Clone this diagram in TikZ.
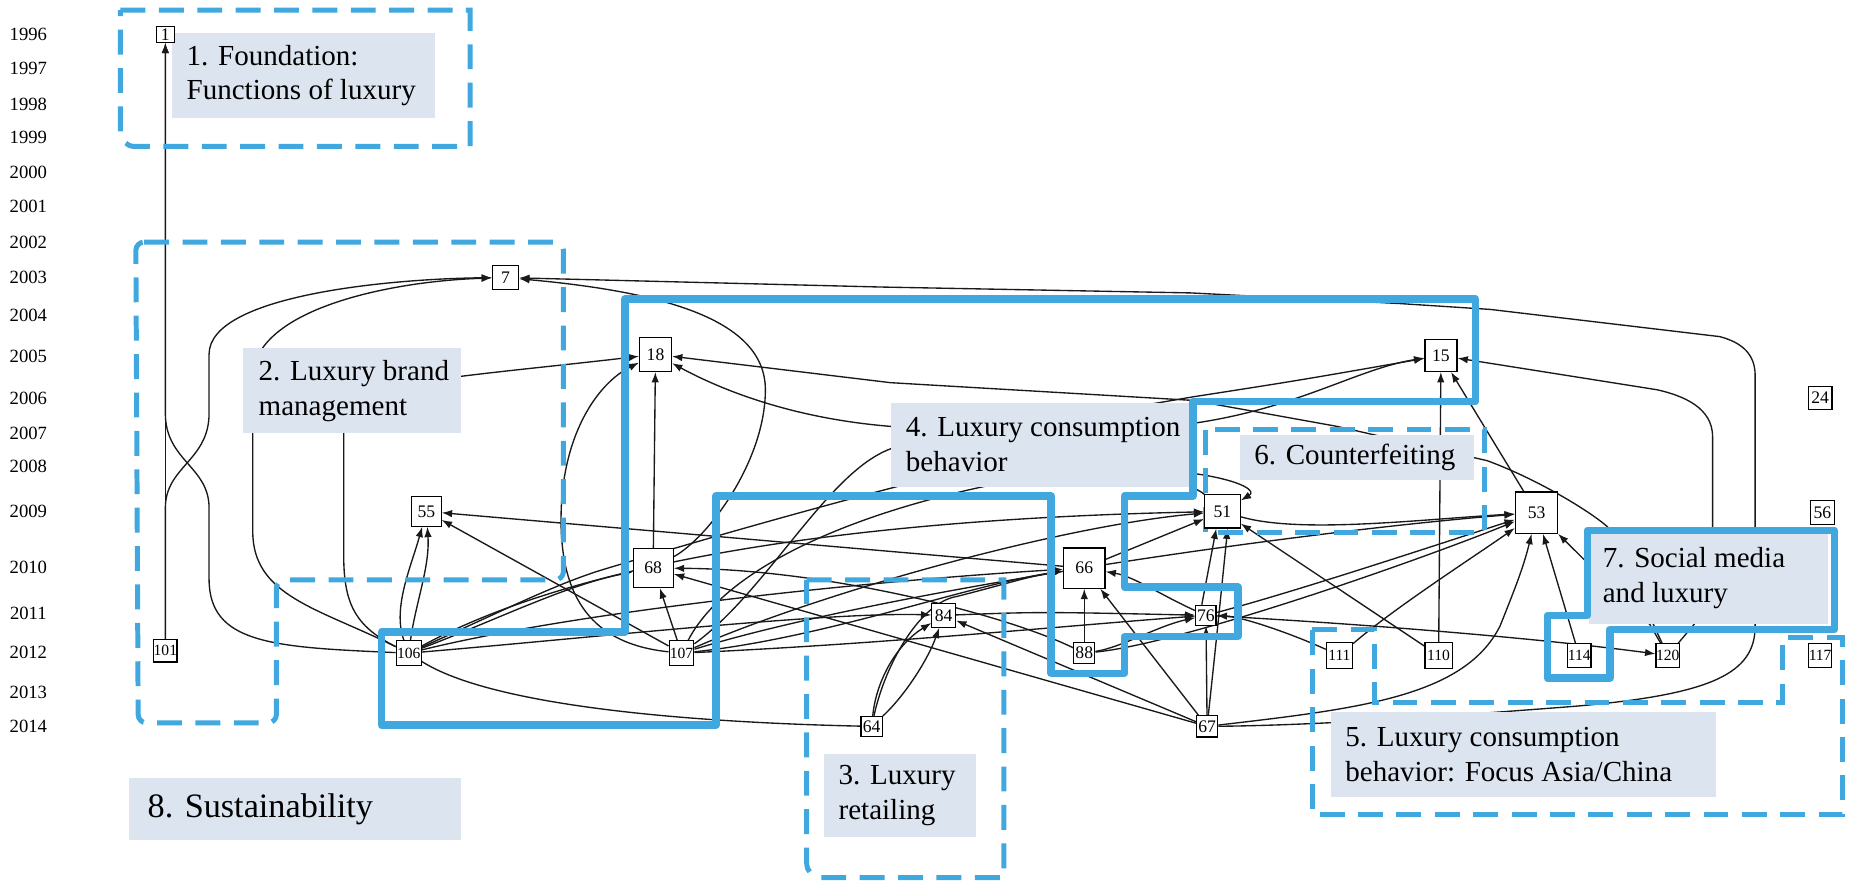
\documentclass[tikz,border=0pt]{standalone}
\usepackage{fontspec}
\setmainfont{Liberation Serif}
\usetikzlibrary{arrows.meta}
\definecolor{grpblue}{RGB}{64,168,223}
\definecolor{labfill}{RGB}{220,228,240}
\pgfdeclarelayer{bg}
\pgfdeclarelayer{edgel}
\pgfdeclarelayer{labl}
\pgfdeclarelayer{grpl}
\pgfsetlayers{bg,edgel,labl,grpl,main}
\begin{document}
\begin{tikzpicture}[x=0.02cm,y=-0.02cm,
  ln/.style={line width=0.65pt, draw=black!90},
  ar/.style={ln, -{Latex[length=5pt,width=3.6pt]}},
  nb/.style 2 args={draw, fill=white, line width=0.55pt, inner sep=0pt, minimum width=#1cm, minimum height=#2cm, font=\fontsize{8.5}{8.5}\selectfont},
  tn/.style={font=\fontsize{7.5}{7.5}\selectfont},
  yr/.style={font=\fontsize{9}{9}\selectfont, inner sep=0pt},
  labbox/.style={fill=labfill, inner sep=0pt},
  labtext/.style={anchor=west, align=left, inner sep=0pt, font=\fontsize{14}{16.8}\selectfont},
  dsh/.style={draw=grpblue, line width=2.4pt, dash pattern=on 12pt off 6.5pt},
  thk/.style={draw=grpblue, line width=3.6pt, line join=round},
]
\useasboundingbox (0,0) rectangle (1568,749);
\begin{pgfonlayer}{bg}
\fill[white] (0,0) rectangle (1568,749);
\end{pgfonlayer}

% year axis
\foreach \yy/\yp in {1996/29,1997/58,1998/88,1999/116,2000/146,2001/175,2002/205,2003/235,2004/267,2005/302,2006/337,2007/367,2008/395,2009/433,2010/480,2011/519,2012/552,2013/586,2014/615}
  \node[yr] (y\yy) at (24,\yp) {\yy};

% papers
\node[nb={0.3}{0.27}] (n1) at (140,29) {1};
\node[nb={0.38}{0.38},tn] (n101) at (140,551) {101};
\node[nb={0.44}{0.4}] (n7) at (428,235) {7};
\node[nb={0.54}{0.58}] (n18) at (555,300) {18};
\node[nb={0.54}{0.54}] (n15) at (1220,301) {15};
\node[nb={0.4}{0.4}] (n24) at (1541,337) {24};
\node[nb={0.5}{0.5}] (n55) at (361,433) {55};
\node[nb={0.6}{0.56}] (n51) at (1035,433) {51};
\node[nb={0.72}{0.7}] (n53) at (1301,434) {53};
\node[nb={0.4}{0.4}] (n56) at (1543,434) {56};
\node[nb={0.68}{0.66}] (n68) at (553,481) {68};
\node[nb={0.7}{0.68}] (n66) at (918,481) {66};
\node[nb={0.4}{0.4}] (n84) at (799,521) {84};
\node[nb={0.34}{0.34}] (n76) at (1021,521) {76};
\node[nb={0.42}{0.42},tn] (n106) at (346,553) {106};
\node[nb={0.42}{0.42},tn] (n107) at (577,553) {107};
\node[nb={0.36}{0.36}] (n88) at (918,553) {88};
\node[nb={0.44}{0.44},tn] (n111) at (1134,555) {111};
\node[nb={0.46}{0.44},tn] (n110) at (1218,555) {110};
\node[nb={0.4}{0.4},tn] (n114) at (1337,555) {114};
\node[nb={0.4}{0.4},tn] (n120) at (1412,555) {120};
\node[nb={0.36}{0.4},tn] (n117) at (1541,555) {117};
\node[nb={0.36}{0.34}] (n64) at (738,615) {64};
\node[nb={0.36}{0.36}] (n67) at (1022,615) {67};

% citations
\begin{pgfonlayer}{edgel}
\draw[ar] (n101) -- (n1);
\draw[ar] (n101) -- (140,430) .. controls (140,395) and (177,390) .. (177,350) -- (177,300) .. controls (177,250) and (330,236) .. (n7);
\draw[ar] (n106) .. controls (230,548) and (177,545) .. (177,490) -- (177,430) .. controls (177,395) and (140,390) .. (140,350) -- (n1);
\draw[ar] (n106) .. controls (270,515) and (214,505) .. (214,450) -- (214,320) .. controls (214,262) and (330,238) .. (n7);
\draw[ar] (n106) .. controls (300,530) and (291,510) .. (291,470) -- (291,345) .. controls (291,325) and (420,316) .. (n18);
\draw[ar] (n107) .. controls (500,545) and (475,505) .. (475,440) .. controls (475,370) and (505,325) .. (n18);
\draw[ar] (n68) -- (n18);
\draw[ar] (n68) .. controls (600,455) and (648,390) .. (648,330) .. controls (648,270) and (560,247) .. (n7);
\draw[ar] (n67) .. controls (1120,614) and (1230,606) .. (1333,598) .. controls (1450,588) and (1486,570) .. (1486,530) -- (1486,318) .. controls (1486,300) and (1475,290) .. (1456,285) -- (1262,262) -- (1185,257) -- (1008,248) -- (745,243) -- (n7);
\draw[ar] (n120) -- (1400,529) -- (1361,446) .. controls (1345,432) and (1300,405) .. (1259,390) -- (1132,361) -- (1010,339) -- (754,324) -- (n18);
\draw[ar] (n51) .. controls (1000,400) and (800,365) .. (754,361) .. controls (680,355) and (620,335) .. (n18);
\draw[ar] (n106) .. controls (332,515) and (348,480) .. (n55);
\draw[ar] (n106) .. controls (352,510) and (364,480) .. (n55);
\draw[ar] (n107) -- (n55);
\draw[ar] (n66) -- (n55);
\draw[ar] (n107) -- (n68);
\draw[ar] (n106) .. controls (420,525) and (480,495) .. (n68);
\draw[ar] (n88) .. controls (850,520) and (700,482) .. (n68);
\draw[ar] (n67) -- (n68);
\draw[ar] (n106) .. controls (500,515) and (760,490) .. (n66);
\draw[ar] (n107) .. controls (700,540) and (820,495) .. (n66);
\draw[ar] (n64) .. controls (750,560) and (780,510) .. (810,505) .. controls (850,495) and (870,488) .. (n66);
\draw[ar] (n88) -- (n66);
\draw[ar] (n67) -- (n66);
\draw[ar] (n76) .. controls (985,505) and (960,488) .. (n66);
\draw[ar] (n64) .. controls (742,575) and (760,545) .. (n84);
\draw[ar] (n64) .. controls (765,590) and (785,560) .. (n84);
\draw[ar] (n67) -- (n84);
\draw[ar] (n106) .. controls (500,540) and (700,518) .. (n84);
\draw[ln] (n106) .. controls (420,600) and (600,612) .. (n64);
\draw[ar] (n107) .. controls (750,545) and (900,530) .. (n76);
\draw[ar] (n84) .. controls (880,518) .. (n76);
\draw[ar] (n88) .. controls (950,548) and (980,530) .. (n76);
\draw[ar] (n67) -- (n76);
\draw[ar] (n111) .. controls (1090,535) and (1050,522) .. (n76);
\draw[ar] (n106) .. controls (480,480) and (700,440) .. (n51);
\draw[ar] (n107) .. controls (700,500) and (900,445) .. (n51);
\draw[ar] (n107) .. controls (620,470) and (760,420) .. (900,400) .. controls (1010,390) and (1070,412) .. (n51);
\draw[ar] (n66) -- (n51);
\draw[ar] ([xshift=-2pt]n76.north) -- ([xshift=-3pt]n51.south);
\draw[ar] (n67) .. controls (1030,540) .. ([xshift=2.5pt]n51.south);
\draw[ar] (n110) -- (n51);
\draw[ar] (n106) .. controls (430,515) and (470,495) .. (508,483) .. controls (650,440) and (900,370) .. (1013,358) .. controls (1100,345) and (1150,312) .. (n15);
\draw[ar] (n107) .. controls (650,500) and (700,400) .. (754,380) -- (1010,336) .. controls (1100,322) .. (n15);
\draw[ar] (n110) -- (n15);
\draw[ar] (n53) -- (n15);
\draw[ar] (n120) -- (1434,529) -- (1450,505) -- (1450,370) .. controls (1450,345) and (1425,335) .. (1403,330) -- (n15);
\draw[ar] (n51) .. controls (1100,452) and (1200,440) .. (n53);
\draw[ar] (n88) .. controls (1000,545) and (1200,475) .. (n53);
\draw[ar] (n76) .. controls (1100,500) and (1220,460) .. (n53);
\draw[ar] (n111) .. controls (1180,515) and (1250,470) .. (n53);
\draw[ar] (n107) .. controls (750,500) and (1100,450) .. (n53);
\draw[ar] (n114) -- (n53);
\draw[ar] (n67) .. controls (1150,600) and (1240,590) .. (1270,530) .. controls (1282,500) and (1290,480) .. (n53);
\draw[ar] (n120) -- (1397,529) -- (n53);
\draw[ar] (n76) .. controls (1150,528) and (1300,540) .. (n120);
\end{pgfonlayer}

% research stream labels
\begin{pgfonlayer}{labl}
\node[labbox, minimum width=4.44cm, minimum height=1.44cm] (L1) at (257,64) {};
\node[labtext] (T1) at ([xshift=0.24cm]L1.west) {1. Foundation:\\Functions of luxury};
\node[labbox, minimum width=3.68cm, minimum height=1.44cm] (L2) at (298,331) {};
\node[labtext] (T2) at ([xshift=0.26cm]L2.west) {2. Luxury brand\\management};
\node[labbox, minimum width=2.56cm, minimum height=1.42cm] (L3) at (762,673.5) {};
\node[labtext] (T3) at ([xshift=0.24cm]L3.west) {3. Luxury\\retailing};
\node[labbox, minimum width=5.08cm, minimum height=1.42cm] (L4) at (881,376.5) {};
\node[labtext] (T4) at ([xshift=0.26cm]L4.west) {4. Luxury consumption\\behavior};
\node[labbox, minimum width=6.52cm, minimum height=1.44cm] (L5) at (1290,639) {};
\node[labtext] (T5) at ([xshift=0.24cm]L5.west) {5. Luxury consumption\\behavior: Focus Asia/China};
\node[labbox, minimum width=3.96cm, minimum height=0.76cm] (L6) at (1149,387) {};
\node[labtext] (T6) at ([xshift=0.24cm]L6.west) {6. Counterfeiting};
\node[labbox, minimum width=4.06cm, minimum height=1.54cm] (L7) at (1446.5,489.5) {};
\node[labtext] (T7) at ([xshift=0.24cm]L7.west) {7. Social media\\and luxury};
\node[labbox, minimum width=5.62cm, minimum height=1.04cm] (L8) at (249.5,685) {};
\node[labtext, font=\fontsize{16.5}{19}\selectfont] (T8) at ([xshift=0.32cm]L8.west) {8. Sustainability};
\end{pgfonlayer}

% research stream outlines
\begin{pgfonlayer}{grpl}
\draw[dsh] (102,8.5) -- (398,8.5) -- (398,124) -- (114,124) to[out=180,in=270] (102,112) -- cycle;
\draw[dsh, rounded corners=4] (115,205) -- (477,205) -- (477,491) -- (234,491) -- (234,612) -- (117,612) -- cycle;
\draw[dsh] (683,491) -- (850,491) -- (850,743) -- (695,743) to[out=180,in=270] (683,731) -- cycle;
\draw[thk] (529,253) -- (1249,253) -- (1249,340) -- (1010,340) -- (1010,420) -- (952,420) -- (952,497) -- (1048,497) -- (1048,539) -- (952,539) -- (952,570) -- (890,570) -- (890,420) -- (606,420) -- (606,614) -- (323,614) -- (323,535) -- (529,535) -- cycle;
\draw[dsh] (1021,364) rectangle (1257,451);
\draw[thk] (1344,449) -- (1553,449) -- (1553,533) -- (1363,533) -- (1363,574) -- (1310,574) -- (1310,521) -- (1344,521) -- cycle;
\draw[dsh] (1111,533) -- (1164,533) -- (1164,595) -- (1509,595) -- (1509,540) -- (1560,540) -- (1560,690) -- (1111,690) -- cycle;
\end{pgfonlayer}
\end{tikzpicture}
\end{document}
